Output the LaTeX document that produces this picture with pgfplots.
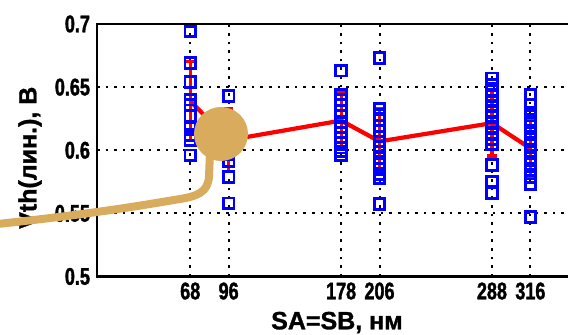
\documentclass[border=0pt]{standalone}
\usepackage{fontspec}
\setmainfont{Liberation Sans}[BoldFeatures={FakeBold=1.2}]
\newfontfamily\narrowfont{Liberation Sans}[FakeStretch=0.75, BoldFeatures={FakeBold=1.5}]
\usepackage{pgfplots}
\pgfplotsset{compat=1.18}
\definecolor{tanblob}{RGB}{216,172,92}
\definecolor{pblue}{RGB}{0,0,255}
\definecolor{pred}{RGB}{255,0,0}

\pgfplotstableread{
x y
68 0.694
68 0.669
68 0.654
68 0.640
68 0.636
68 0.627
68 0.618
68 0.612
68 0.608
68 0.596
96 0.643
96 0.625
96 0.615
96 0.605
96 0.597
96 0.591
96 0.579
96 0.558
178 0.663
178 0.644
178 0.640
178 0.636
178 0.631
178 0.627
178 0.622
178 0.618
178 0.614
178 0.610
178 0.606
178 0.602
178 0.599
178 0.596
206 0.673
206 0.633
206 0.628
206 0.624
206 0.619
206 0.615
206 0.611
206 0.607
206 0.603
206 0.599
206 0.594
206 0.589
206 0.585
206 0.581
206 0.578
206 0.5575
288 0.657
288 0.652
288 0.647
288 0.643
288 0.639
288 0.635
288 0.631
288 0.627
288 0.622
288 0.618
288 0.613
288 0.609
288 0.605
288 0.5885
288 0.5753
288 0.5662
316 0.644
316 0.636
316 0.630
316 0.624
316 0.619
316 0.614
316 0.609
316 0.604
316 0.599
316 0.594
316 0.589
316 0.584
316 0.579
316 0.573
316 0.547
}\rawdata

\pgfplotstableread{
x y e
68 0.639 0.031
96 0.608 0.025
178 0.6235 0.023
206 0.607 0.0256
288 0.6215 0.026
316 0.6015 0.024
}\meandata

\begin{document}
\begin{tikzpicture}
\begin{axis}[
  name=ax,
  at={(0,0)}, anchor=south west,
  scale only axis,
  width=240pt, height=126.25pt,
  xmin=0, xmax=350,
  ymin=0.5, ymax=0.7,
  xtick={68,96,178,206,288,316},
  xticklabels={68,96,178,206,288,316},
  ytick={0.5,0.55,0.6,0.65,0.7},
  yticklabels={0.5,0.55,0.6,0.65,0.7},
  major tick length=0pt,
  tick label style={font=\narrowfont\bfseries\fontsize{12}{12}\selectfont},
  xticklabel style={yshift=0.5pt},
  yticklabel style={xshift=0pt},
  axis line style={line width=1.2pt},
  grid=major,
  major grid style={line width=1pt, dash pattern=on 1.3pt off 3pt, black},
  xlabel={SA=SB, нм},
  ylabel={Vth(лин.), В},
  xlabel style={font=\bfseries\fontsize{12.5}{12.5}\selectfont, at={(axis description cs:0.5,0)}, anchor=center, yshift=-23pt},
  ylabel style={font=\bfseries\fontsize{12.5}{12.5}\selectfont, at={(axis description cs:0,0.5)}, anchor=center, xshift=-3.75pt, yshift=33.5pt},
  clip=false,
]
\addplot[only marks, mark=square, mark size=2.65pt, mark options={line width=1.45pt, draw=pblue}] table[x=x,y=y] {\rawdata};
\addplot[pred, line width=2.1pt, mark=none,
  error bars/.cd, y dir=both, y explicit,
  error bar style={line width=1.6pt, pred},
  error mark options={rotate=90, mark size=2.3pt, line width=1.6pt, pred}]
  table[x=x,y=y,y error=e] {\meandata};
\end{axis}
\begin{scope}[shift={(ax.south west)}]
\fill[tanblob] (62pt,71.25pt) circle (13.5pt);
\draw[tanblob, line width=4pt] (56.5pt,62pt) -- (56pt,50pt) .. controls (55.5pt,42pt) and (50pt,40pt) .. (40pt,38.5pt) .. controls (25pt,36pt) and (0pt,31.5pt) .. (-52pt,26pt);
\end{scope}
\pgfresetboundingbox
\path[use as bounding box] (-48.5pt,-29.25pt) rectangle (235.5pt,138.25pt);
\end{tikzpicture}
\end{document}
